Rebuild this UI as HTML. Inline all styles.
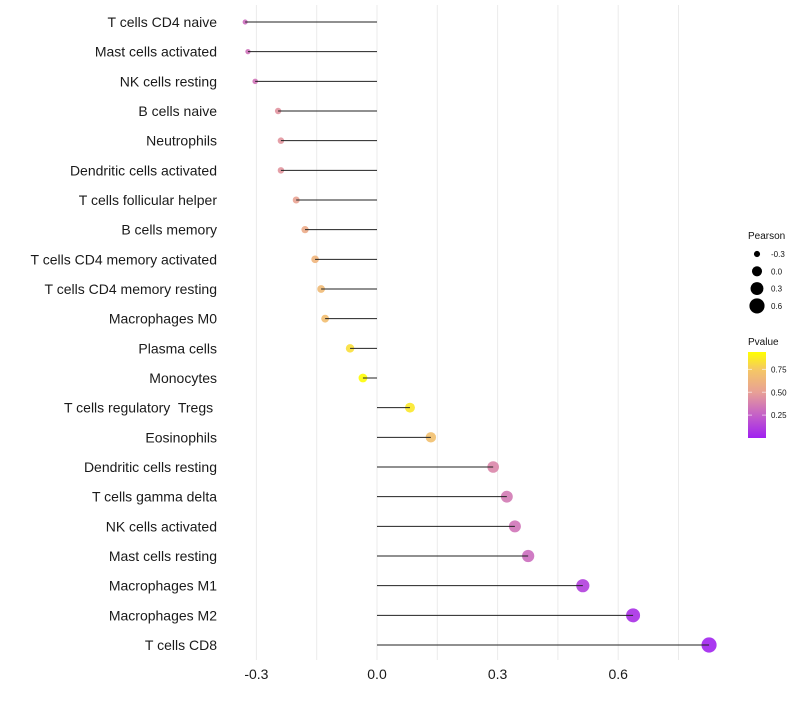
<!DOCTYPE html>
<html><head><meta charset="utf-8"><style>
body{margin:0;background:#fff}
svg text{font-family:"Liberation Sans",sans-serif;white-space:pre}
</style></head><body>
<svg id="chart" width="800" height="700"></svg>
<script>
const categories=["T cells CD4 naive","Mast cells activated","NK cells resting","B cells naive","Neutrophils","Dendritic cells activated","T cells follicular helper","B cells memory","T cells CD4 memory activated","T cells CD4 memory resting","Macrophages M0","Plasma cells","Monocytes","T cells regulatory  Tregs ","Eosinophils","Dendritic cells resting","T cells gamma delta","NK cells activated","Mast cells resting","Macrophages M1","Macrophages M2","T cells CD8"];
const pearson=[-0.328,-0.321,-0.303,-0.246,-0.239,-0.239,-0.201,-0.179,-0.154,-0.139,-0.129,-0.067,-0.035,0.082,0.134,0.289,0.323,0.343,0.376,0.512,0.637,0.826];
const pvalues=[0.3,0.32,0.33,0.45,0.46,0.46,0.52,0.57,0.63,0.66,0.69,0.83,0.93,0.86,0.7,0.4,0.35,0.33,0.3,0.12,0.06,0.01];
const xTicks=[-0.3,0,0.3,0.6];
const xTickLabels=["-0.3","0.0","0.3","0.6"];
const sizeLegend=[-0.3,0,0.3,0.6];
const sizeLegendLabels=["-0.3","0.0","0.3","0.6"];
const pTicks=[0.25,0.5,0.75];
const pTickLabels=["0.25","0.50","0.75"];

const NS="http://www.w3.org/2000/svg";
const svg=document.getElementById('chart');
function el(t,a,p){const e=document.createElementNS(NS,t);for(const k in a)e.setAttribute(k,a[k]);(p||svg).appendChild(e);return e;}
const xScale=v=>377+v*402;
const yScale=i=>22+i*(623/21);
const rScale=v=>Math.sqrt(Math.max(1,21+44*v));
const stops=[[0,[160,32,240]],[0.25,[196,96,200]],[0.5,[232,160,150]],[0.75,[245,200,100]],[0.94,[255,255,0]]];
function col(p){for(let i=1;i<stops.length;i++){if(p<=stops[i][0]||i==stops.length-1){const a=stops[i-1],b=stops[i];let t=(p-a[0])/(b[0]-a[0]);t=Math.max(0,Math.min(1,t));const c=a[1].map((v,j)=>Math.round(v+(b[1][j]-v)*t));return`rgb(${c})`;}}}
for(let v=-0.3;v<=0.76;v+=0.15){const g=el('line',{x1:xScale(v),x2:xScale(v),y1:5,y2:660,stroke:'#ebebeb','stroke-width':1});

}
categories.forEach((c,i)=>{
const y=yScale(i);
const t=el('text',{x:217,y:y+5,'text-anchor':'end','font-size':14,fill:'#1a1a1a'});t.textContent=c;


const d=el('circle',{cx:xScale(pearson[i]),cy:y,r:rScale(pearson[i]),fill:col(pvalues[i]),opacity:0.9});


const s=el('line',{x1:xScale(0),x2:xScale(pearson[i]),y1:y,y2:y,stroke:'#222','stroke-width':1});


});
xTicks.forEach((v,i)=>{const t=el('text',{x:xScale(v),y:679,'text-anchor':'middle','font-size':14,fill:'#1a1a1a'});t.textContent=xTickLabels[i];

});
const lt=el('text',{x:748,y:239,'font-size':10,fill:'#111'});lt.textContent='Pearson';


sizeLegend.forEach((v,i)=>{const y=254+i*17.3;
const c=el('circle',{cx:757,cy:y,r:rScale(v)*1.1,fill:'#000'});


const t=el('text',{x:771,y:y+3,'font-size':8,fill:'#111'});t.textContent=sizeLegendLabels[i];

});
const pt=el('text',{x:748,y:345,'font-size':10,fill:'#111'});pt.textContent='Pvalue';


const defs=el('defs',{});const lg=el('linearGradient',{id:'pg',x1:0,y1:1,x2:0,y2:0},defs);
stops.forEach(s=>el('stop',{offset:s[0]/0.94,'stop-color':`rgb(${s[1]})`},lg));
const bar=el('rect',{x:748,y:352,width:18,height:86,fill:'url(#pg)'});


const py=p=>438-p*(86/0.94);
pTicks.forEach((p,i)=>{el('line',{x1:748,x2:752,y1:py(p),y2:py(p),stroke:'#fff','stroke-opacity':0.6});el('line',{x1:762,x2:766,y1:py(p),y2:py(p),stroke:'#fff','stroke-opacity':0.6});
const t=el('text',{x:771,y:py(p)+3,'font-size':8,fill:'#111'});t.textContent=pTickLabels[i];

});
</script>
</body></html>
